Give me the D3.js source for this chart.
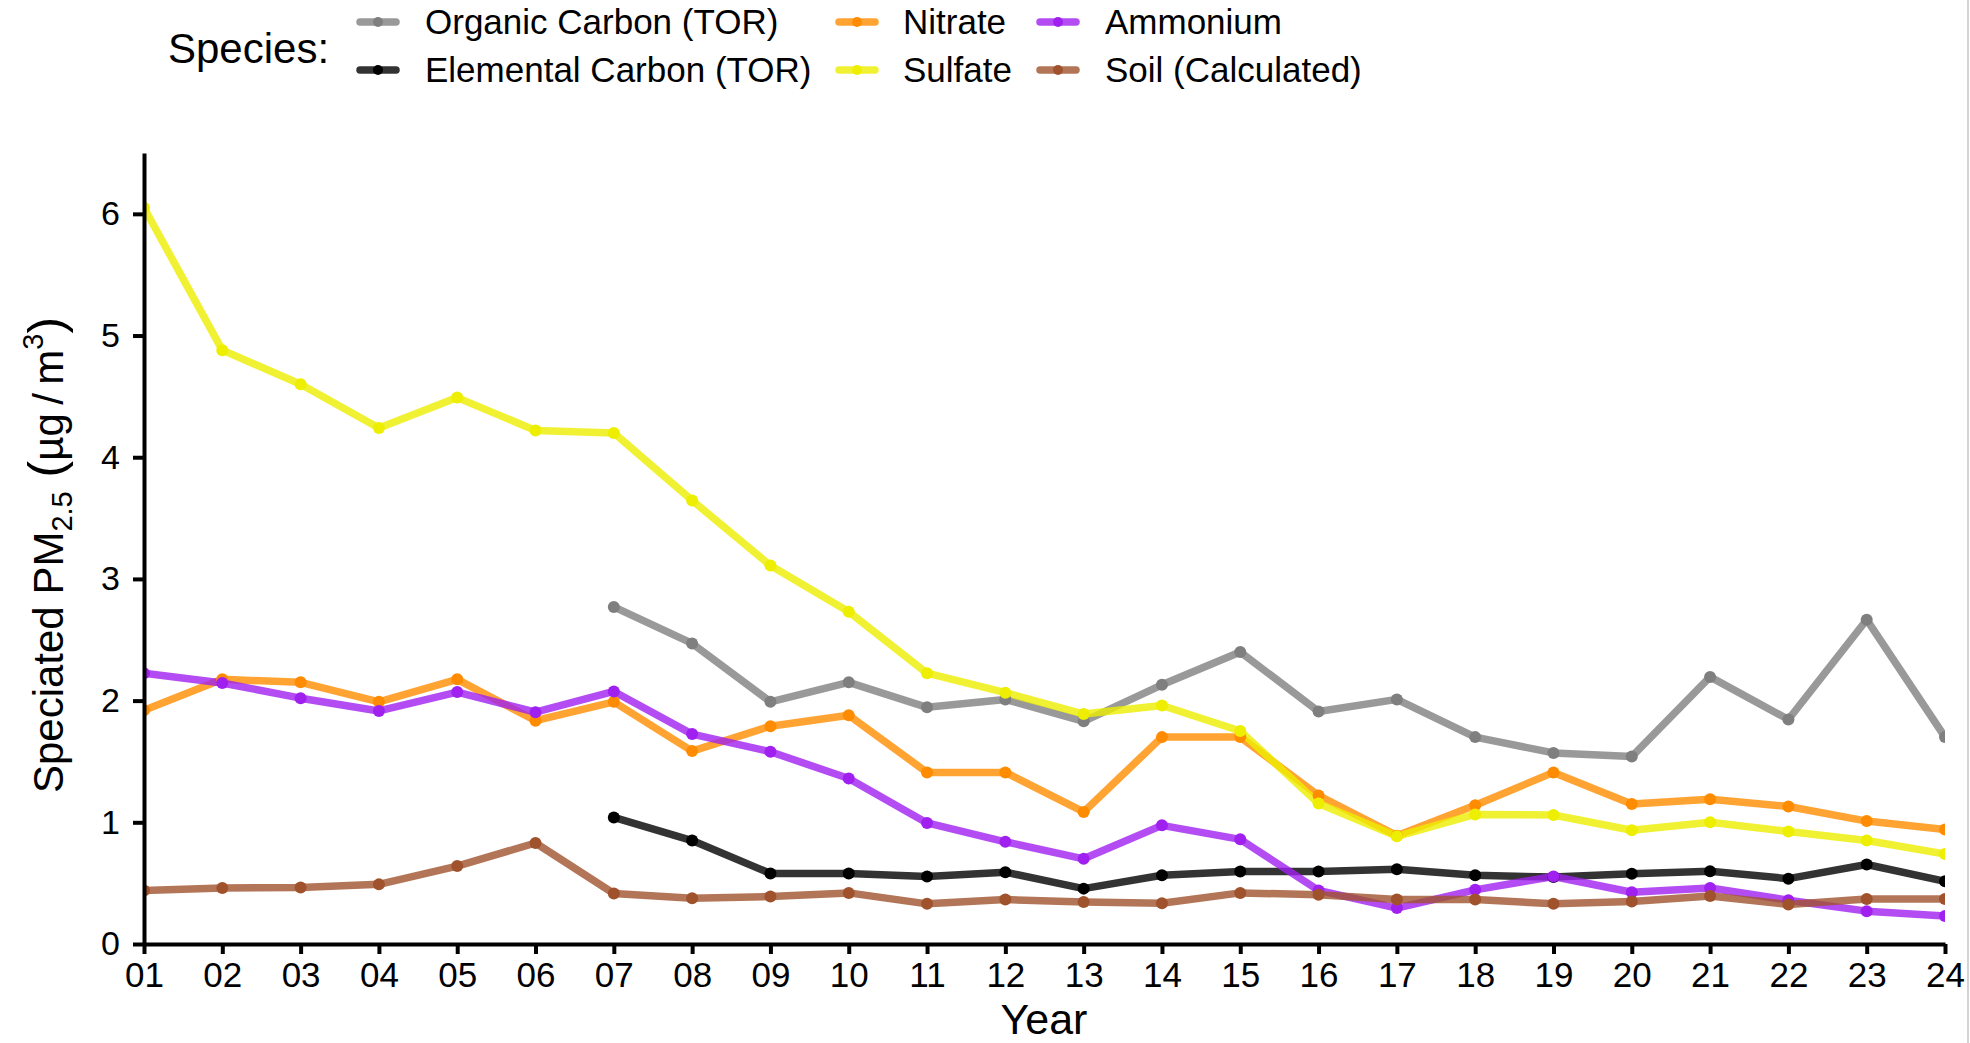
<!DOCTYPE html>
<html>
<head>
<meta charset="utf-8">
<script src="https://cdn.jsdelivr.net/npm/d3@7"></script>
<style>
body{margin:0;background:#fff;}
svg{display:block;font-family:"Liberation Sans", Arial, sans-serif;}
</style>
</head>
<body>
<svg id="graph" width="1970" height="1043"></svg>
<script>
// data
var years = ["01","02","03","04","05","06","07","08","09","10","11","12",
             "13","14","15","16","17","18","19","20","21","22","23","24"];
var species = ["Organic Carbon (TOR)","Elemental Carbon (TOR)","Nitrate","Sulfate","Ammonium","Soil (Calculated)"];
var pointColors = ["#7f7f7f","#000000","#ff8c00","#eeee00","#a020f0","#a0522d"];

var organicCarbon = [null,null,null,null,null,null,2.77,2.47,1.99,2.15,1.945,2.01,
                     1.83,2.13,2.40,1.91,2.01,1.70,1.57,1.54,2.195,1.845,2.665,1.70];
var elementalCarbon = [null,null,null,null,null,null,1.04,0.85,0.58,0.58,0.555,0.59,
                       0.455,0.565,0.595,0.595,0.615,0.565,0.55,0.578,0.598,0.537,0.653,0.515];
var nitrate = [1.92,2.175,2.15,1.99,2.175,1.835,1.99,1.585,1.79,1.88,1.41,1.41,
               1.085,1.70,1.70,1.22,0.89,1.14,1.41,1.15,1.19,1.13,1.01,0.94];
var sulfate = [6.05,4.88,4.60,4.24,4.49,4.22,4.20,3.645,3.11,2.73,2.225,2.065,
               1.89,1.96,1.75,1.155,0.885,1.065,1.06,0.935,1.00,0.925,0.85,0.74];
var ammonium = [2.225,2.145,2.02,1.915,2.07,1.905,2.075,1.725,1.58,1.36,0.995,0.84,
                0.70,0.975,0.86,0.44,0.295,0.445,0.555,0.425,0.46,0.36,0.27,0.23];
var soil = [0.44,0.46,0.465,0.49,0.64,0.83,0.415,0.375,0.39,0.42,0.33,0.365,
            0.345,0.335,0.42,0.405,0.365,0.365,0.33,0.35,0.395,0.325,0.37,0.37];
var yTicks = [0,1,2,3,4,5,6];

var series = [organicCarbon, elementalCarbon, nitrate, sulfate, ammonium, soil];

var graphcanvas = d3.select("svg#graph");

var xScale = d3.scalePoint().domain(years).range([144,1945]).padding(0);
var yScale = d3.scaleLinear().domain([0,6.5]).range([944,153]);

// clip the data to the panel
graphcanvas.append("clipPath")
           .attr("id","panel")
           .append("rect")
           .attr("x",144)
           .attr("y",0)
           .attr("width",1945-144)
           .attr("height",944);

var plot = graphcanvas.append("g").attr("clip-path","url(#panel)");

var line = d3.line()
             .defined(function(d){ return d != null; })
             .x(function(d,i){ return xScale(years[i]); })
             .y(function(d){ return yScale(d); });

for(var s=0; s<series.length; s++){
  plot.append("path")
      .attr("class","graphline")
      .attr("d", line(series[s]))
      .attr("fill","none")
      .attr("stroke", pointColors[s])
      .attr("stroke-opacity",0.8)
      .attr("stroke-width",7.5)
      .attr("stroke-linejoin","round");
}
for(var s=0; s<series.length; s++){
  plot.selectAll("circle.pt"+s)
      .data(series[s].map(function(v,i){ return {year:years[i], v:v}; }).filter(function(d){ return d.v != null; }))
      .enter()
      .append("circle")
      .attr("class","graphpoint pt"+s)
      .attr("cx", function(d){ return xScale(d.year); })
      .attr("cy", function(d){ return yScale(d.v); })
      .attr("r",6)
      .attr("fill", pointColors[s]);
}

// axes
var xaxis = graphcanvas.append("g")
                       .attr("transform","translate(0,944)")
                       .call(d3.axisBottom(xScale).tickSize(10).tickSizeOuter(0).tickPadding(8));
var yaxis = graphcanvas.append("g")
                       .attr("transform","translate(144,0)")
                       .call(d3.axisLeft(yScale).tickValues(yTicks).tickFormat(d3.format("d")).tickSize(11).tickSizeOuter(0).tickPadding(13));
xaxis.selectAll("path, line").attr("stroke","#000").attr("stroke-width",4);
yaxis.selectAll("path, line").attr("stroke","#000").attr("stroke-width",4);
xaxis.selectAll("text").attr("fill","#000").style("font-size","35px").style("font-family","'Liberation Sans', Arial, sans-serif");
yaxis.selectAll("text").attr("fill","#000").style("font-size","34px").style("font-family","'Liberation Sans', Arial, sans-serif");

// axis titles
graphcanvas.append("text")
           .text("Year")
           .attr("x",1044)
           .attr("y",1033.5)
           .attr("text-anchor","middle")
           .attr("fill","#000")
           .style("font-size","43px");

var ytitle = graphcanvas.append("text")
                        .attr("transform","translate(63,555) rotate(-90)")
                        .attr("text-anchor","middle")
                        .attr("fill","#000")
                        .style("font-size","42px");
ytitle.append("tspan").text("Speciated PM");
ytitle.append("tspan").text("2.5").attr("dy",9).style("font-size","29px");
ytitle.append("tspan").text(" (").attr("dy",-9).style("font-size","50px");
ytitle.append("tspan").text("\u00b5g\u2009/\u2009m");
ytitle.append("tspan").text("3").attr("dy",-20).style("font-size","29px");
ytitle.append("tspan").text(")").attr("dy",20).style("font-size","50px");

// legend
graphcanvas.append("text")
           .text("Species:")
           .attr("x",168)
           .attr("y",63)
           .attr("fill","#000")
           .style("font-size","42px");
var keyX = [357, 836, 1037];
var labelX = [425, 903, 1105];
var rowY = [22, 70];
for(var i=0; i<species.length; i++){
  var col = Math.floor(i/2);
  var row = i%2;
  graphcanvas.append("line")
             .attr("x1", keyX[col]+3)
             .attr("x2", keyX[col]+39)
             .attr("y1", rowY[row])
             .attr("y2", rowY[row])
             .attr("stroke", pointColors[i])
             .attr("stroke-opacity",0.8)
             .attr("stroke-width",7.5)
             .attr("stroke-linecap","round");
  graphcanvas.append("circle")
             .attr("cx", keyX[col]+21)
             .attr("cy", rowY[row])
             .attr("r",5)
             .attr("fill", pointColors[i]);
  graphcanvas.append("text")
             .text(species[i])
             .attr("x", labelX[col])
             .attr("y", rowY[row]+12)
             .attr("fill","#000")
             .style("font-size","35px");
}

// thin border on the right edge
graphcanvas.append("line")
           .attr("x1",1968)
           .attr("x2",1968)
           .attr("y1",0)
           .attr("y2",1043)
           .attr("stroke","#c4c4c4")
           .attr("stroke-width",1.5);
</script>
</body>
</html>
